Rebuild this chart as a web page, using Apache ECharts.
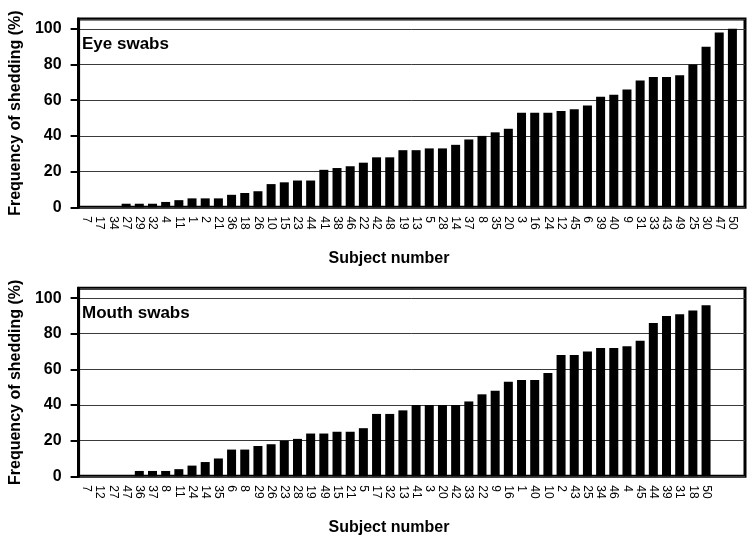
<!DOCTYPE html>
<html>
<head>
<meta charset="utf-8">
<script src="https://cdn.jsdelivr.net/npm/echarts@6/dist/echarts.min.js"></script>
<style>
html,body{margin:0;padding:0;background:#fff;}
#c{width:752px;height:538px;}
</style>
</head>
<body>
<div id="c"></div>
<script>
var eyeSubjects = ['7','17','34','27','29','32','4','11','1','2','21','36','18','26','10','15','23','44','41','38','46','22','42','48','19','13','5','28','14','37','8','35','20','3','16','24','12','45','6','39','40','9','31','33','43','49','25','30','47','50'];
var eyeValues = [0,0,0,2,2,2,3,4,5,5,5,7,8,9,13,14,15,15,21,22,23,25,28,28,32,32,33,33,35,38,40,42,44,53,53,53,54,55,57,62,63,66,71,73,73,74,80,90,98,100];
var mouthSubjects = ['7','12','27','47','36','37','8','11','24','14','35','6','8','29','26','23','28','19','49','15','21','5','17','32','13','41','3','20','42','33','22','9','16','1','40','10','2','43','25','34','46','4','45','44','39','31','18','50','',''];
var mouthValues = [0,0,0,0,3,3,3,4,6,8,10,15,15,17,18,20,21,24,24,25,25,27,35,35,37,40,40,40,40,42,46,48,53,54,54,58,68,68,70,72,72,73,76,86,90,91,93,96];
var yTicks = [0,20,40,60,80,100];
var panelTitles = ['Eye swabs','Mouth swabs'];
var yTitle = 'Frequency of shedding (%)';
var xTitle = 'Subject number';

var FONT = 'Liberation Sans, Arial, sans-serif';
var YMAX = 105.5;
var panels = [{top:19, bottom:538-207.3}, {top:288.3, bottom:538-476.3}];

var grids = [], xAxes = [], yAxes = [], series = [], titles = [];
panels.forEach(function(p, i){
  var subj = i === 0 ? eyeSubjects : mouthSubjects;
  var vals = i === 0 ? eyeValues : mouthValues;
  grids.push({left:73, right:7, top:p.top, bottom:p.bottom, show:true, borderColor:'#000', borderWidth:3, backgroundColor:'transparent'});
  grids.push({left:80, right:13, top:p.top, bottom:p.bottom});
  var go = i*2, gi = i*2+1;
  xAxes.push({gridIndex:go, type:'value', min:0, max:1, show:false});
  yAxes.push({gridIndex:go, type:'value', min:0, max:YMAX, interval:20,
    axisLine:{show:true, lineStyle:{color:'#000', width:3}},
    axisTick:{show:true, length:8, lineStyle:{color:'#000', width:2}},
    axisLabel:{show:true, margin:17, color:'#000', fontFamily:FONT, fontWeight:'bold', fontSize:16, showMaxLabel:false,
      formatter:function(v){ return yTicks.indexOf(v) >= 0 ? String(v) : ''; }},
    splitLine:{show:true, lineStyle:{color:'#3a3a3a', width:1}},
    name:yTitle, nameLocation:'middle', nameGap:51,
    nameTextStyle:{color:'#000', fontFamily:FONT, fontWeight:'bold', fontSize:16}
  });
  xAxes.push({gridIndex:gi, type:'category', data:subj, boundaryGap:true,
    axisLine:{show:false}, axisTick:{show:false},
    axisLabel:{interval:0, rotate:-90, margin:9, color:'#000', fontFamily:FONT, fontSize:12},
    name:xTitle, nameLocation:'middle', nameGap:43,
    nameTextStyle:{color:'#000', fontFamily:FONT, fontWeight:'bold', fontSize:16, padding:[0,41,0,0]}
  });
  yAxes.push({gridIndex:gi, type:'value', min:0, max:YMAX, show:false, splitLine:{show:false}});
  series.push({type:'bar', xAxisIndex:i*2+1, yAxisIndex:i*2+1, data:vals, barWidth:9,
    itemStyle:{color:'#000'}, silent:true, animation:false});
  titles.push({text:panelTitles[i], left:82, top:p.top+17, padding:0,
    textStyle:{color:'#000', fontFamily:FONT, fontWeight:'bold', fontSize:17}});
});

var chart = echarts.init(document.getElementById('c'), null, {renderer:'canvas'});
chart.setOption({
  backgroundColor:'#fff',
  animation:false,
  title:titles,
  grid:grids,
  xAxis:xAxes,
  yAxis:yAxes,
  series:series
});
</script>
</body>
</html>
